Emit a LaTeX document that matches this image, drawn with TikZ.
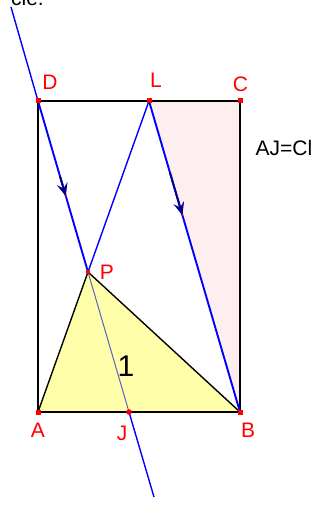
\documentclass[tikz,border=0pt]{standalone}
\usepackage{fontspec}
\setmainfont{Liberation Sans}
\usetikzlibrary{arrows.meta,calc}
\definecolor{ptred}{RGB}{255,0,0}
\definecolor{lineblue}{RGB}{0,0,255}
\definecolor{navyarrow}{RGB}{0,0,140}
\definecolor{slate}{RGB}{95,95,200}
\definecolor{yellowfill}{RGB}{255,255,170}
\definecolor{pinkfill}{RGB}{253,238,240}
\tikzset{
  lbl/.style={text=ptred,inner sep=0pt,font=\fontsize{21}{21}\selectfont},
  pt/.style={fill=ptred,draw=none},
  blueline/.style={draw=lineblue,line width=1.4pt},
  thickblue/.style={draw=lineblue,line width=1.9pt},
  vec/.style={draw=navyarrow,line width=1.9pt,-{Stealth[length=13pt,width=11pt,inset=5pt]}},
  edge/.style={draw=black,line width=1.4pt}
}
\begin{document}
\begin{tikzpicture}[x=1pt,y=-1pt]
\useasboundingbox (0,0) rectangle (326,505);
\clip (0,0) rectangle (326,505);
\fill[white] (0,0) rectangle (326,505);
% points
\coordinate (D) at (38,101);
\coordinate (L) at (149,101);
\coordinate (C) at (240,101);
\coordinate (A) at (38,412);
\coordinate (B) at (240,412);
\coordinate (J) at (129,412);
\coordinate (P) at (88,272);
\coordinate (T) at (11,7);
\coordinate (E) at (154,497);
% fills
\fill[pinkfill] (L) -- (C) -- (B) -- cycle;
\fill[yellowfill] (A) -- (P) -- (B) -- cycle;
% top fragment of text
\node[anchor=base east,inner sep=0pt,font=\fontsize{21}{21}\selectfont] (frag) at (44,6) {cle.};
% rectangle
\draw[edge,line width=1.6pt] (A) -- (B) -- (C) -- (D) -- cycle;
% triangle edges
\draw[edge] (A) -- (P) -- (B);
% blue lines
\draw[blueline] (T) -- (D);
\draw[thickblue] (D) -- (P);
\draw[draw=slate,line width=1pt] (P) -- (J);
\draw[blueline] (J) -- (E);
\draw[blueline] (L) -- (P);
\draw[thickblue] (L) -- (B);
% vector arrows
\draw[vec] ($(D)!0.44!(P)$) -- ($(D)!0.556!(P)$);
\draw[vec] ($(L)!0.23!(B)$) -- ($(L)!0.367!(B)$);
\fill[ptred] ($(D)!0.556!(P)$) circle (1.2pt);
\fill[ptred] ($(L)!0.367!(B)$) circle (1.2pt);
% points
\foreach \p in {D,L,C,A,B} \fill[pt] ($(\p)+(-2.5,-2.5)$) rectangle ($(\p)+(2.5,2.5)$);
\fill[pt] (J) circle (2.8pt);
\fill[pt] (P) circle (2.2pt);
% labels
\node[lbl] (lD) at (50,82) {D};
\node[lbl] (lL) at (156,80) {L};
\node[lbl] (lC) at (240.5,84.5) {C};
\node[lbl] (lA) at (38,430) {A};
\node[lbl] (lJ) at (122,433) {J};
\node[lbl] (lB) at (248,430) {B};
\node[lbl] (lP) at (107,272) {P};
\node[inner sep=0pt,font=\fontsize{21}{21}\selectfont] (eq) at (284,148) {AJ=Cl};
\node[inner sep=0pt,font=\fontsize{30}{30}\selectfont] (one) at (126,366) {1};
\end{tikzpicture}
\end{document}
